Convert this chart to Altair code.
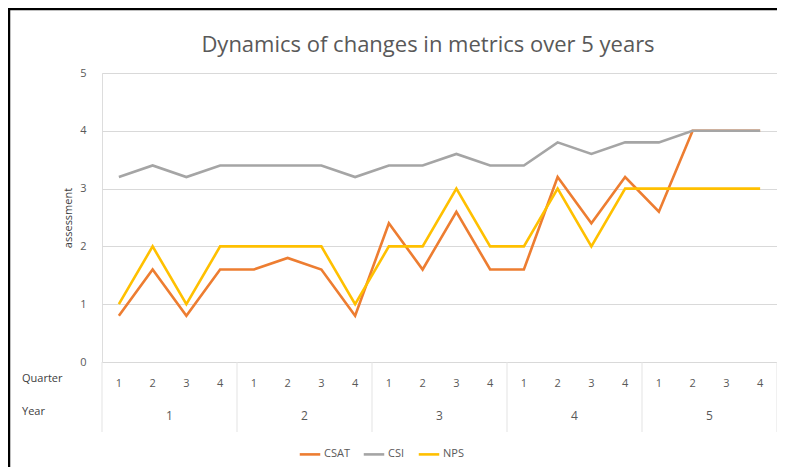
import altair as alt
import pandas as pd

# ---- data ----
quarters = [1, 2, 3, 4, 1, 2, 3, 4, 1, 2, 3, 4, 1, 2, 3, 4, 1, 2, 3, 4]
years = [1, 1, 1, 1, 2, 2, 2, 2, 3, 3, 3, 3, 4, 4, 4, 4, 5, 5, 5, 5]
csat = [0.8, 1.6, 0.8, 1.6, 1.6, 1.8, 1.6, 0.8, 2.4, 1.6, 2.6, 1.6, 1.6, 3.2, 2.4, 3.2, 2.6, 4.0, 4.0, 4.0]
csi = [3.2, 3.4, 3.2, 3.4, 3.4, 3.4, 3.4, 3.2, 3.4, 3.4, 3.6, 3.4, 3.4, 3.8, 3.6, 3.8, 3.8, 4.0, 4.0, 4.0]
nps = [1, 2, 1, 2, 2, 2, 2, 1, 2, 2, 3, 2, 2, 3, 2, 3, 3, 3, 3, 3]
series_names = ["CSAT", "CSI", "NPS"]
series_colors = ["#ED7D31", "#A5A5A5", "#FFC000"]
year_labels = ["1", "2", "3", "4", "5"]
row_titles = ["Quarter", "Year"]
title_text = "Dynamics of changes in metrics over 5 years"
y_title = "assessment"

FONT = "Open Sans"
W, H = 675, 289

rows = []
for i in range(len(quarters)):
    for name, vals in zip(series_names, [csat, csi, nps]):
        rows.append({"idx": i, "quarter": quarters[i], "year": years[i],
                     "series": name, "value": vals[i]})
df = pd.DataFrame(rows)
qdf = pd.DataFrame({"idx": list(range(len(quarters))), "quarter": [str(q) for q in quarters]})

ydf = pd.DataFrame({"year": year_labels})
ydf["pos"] = [sum(i for i, y in enumerate(years) if str(y) == yl) /
              sum(1 for y in years if str(y) == yl) for yl in year_labels]
bounds = [-0.5] + [i + 0.5 for i in range(len(years) - 1) if years[i] != years[i + 1]] + [len(years) - 0.5]
bdf = pd.DataFrame({"b": bounds})

x_scale = alt.Scale(domain=[-0.5, len(quarters) - 0.5], nice=False, zero=False)

lines = alt.Chart(df).mark_line(strokeWidth=2.6).encode(
    x=alt.X("idx:Q", scale=x_scale, axis=None),
    y=alt.Y("value:Q", scale=alt.Scale(domain=[0, 5], nice=False),
            axis=alt.Axis(values=[0, 1, 2, 3, 4, 5], grid=True, gridColor="#D9D9D9", domain=False,
                          ticks=False, labelPadding=16, labelFontSize=11, labelColor="#595959",
                          labelFont=FONT, title=y_title, titleFont=FONT, titleFontSize=11,
                          titleFontWeight="normal", titleColor="#404040", titlePadding=6)),
    color=alt.Color("series:N", scale=alt.Scale(domain=series_names, range=series_colors),
                    legend=alt.Legend(title=None, orient="none", legendX=196, legendY=369,
                                      direction="horizontal", symbolType="stroke",
                                      symbolStrokeWidth=2.6, symbolSize=420,
                                      labelFont=FONT, labelFontSize=11, labelColor="#595959",
                                      columnPadding=8, labelOffset=2)),
    order=alt.Order("idx:Q"),
)

seps = alt.Chart(bdf).mark_rule(color="#E3E3E3", strokeWidth=1).encode(
    x=alt.X("b:Q", scale=x_scale, axis=None), y=alt.value(H), y2=alt.value(H + 70))

quarter_text = alt.Chart(qdf).mark_text(font=FONT, fontSize=11, color="#595959").encode(
    x=alt.X("idx:Q", scale=x_scale, axis=None), y=alt.value(H + 22), text="quarter:N")

year_text = alt.Chart(ydf).mark_text(font=FONT, fontSize=12, color="#595959").encode(
    x=alt.X("pos:Q", scale=x_scale, axis=None), y=alt.value(H + 54), text="year:N")

row_labels = alt.Chart(pd.DataFrame({"t": row_titles})).mark_text(
    font=FONT, fontSize=11, color="#404040", align="left").encode(
    x=alt.value(-80),
    y=alt.Y("t:N", scale=alt.Scale(type="point", domain=row_titles, range=[H + 17, H + 50], padding=0),
            axis=None),
    text="t:N")

title = alt.Chart(pd.DataFrame({"t": [title_text]})).mark_text(
    font=FONT, fontSize=22, color="#595959").encode(
    x=alt.value(326), y=alt.value(-28), text="t:N")

frame_top = alt.Chart(pd.DataFrame({"a": [0]})).mark_rule(color="black", strokeWidth=2.5).encode(
    x=alt.value(-94), x2=alt.value(W), y=alt.value(-64))
frame_left = alt.Chart(pd.DataFrame({"a": [0]})).mark_rule(color="black", strokeWidth=2.5).encode(
    x=alt.value(-93), y=alt.value(-65), y2=alt.value(H + 105))

chart = alt.layer(seps, lines, quarter_text, year_text, row_labels, title, frame_top, frame_left).resolve_scale(
    y="independent").properties(
    width=W, height=H,
    autosize=alt.AutoSizeParams(type="none"),
    padding={"left": 94, "top": 65, "right": 0, "bottom": 105},
).configure_view(stroke=None).configure(background="white")

chart.save("out.html", embed_options={"renderer": "svg", "actions": False})
